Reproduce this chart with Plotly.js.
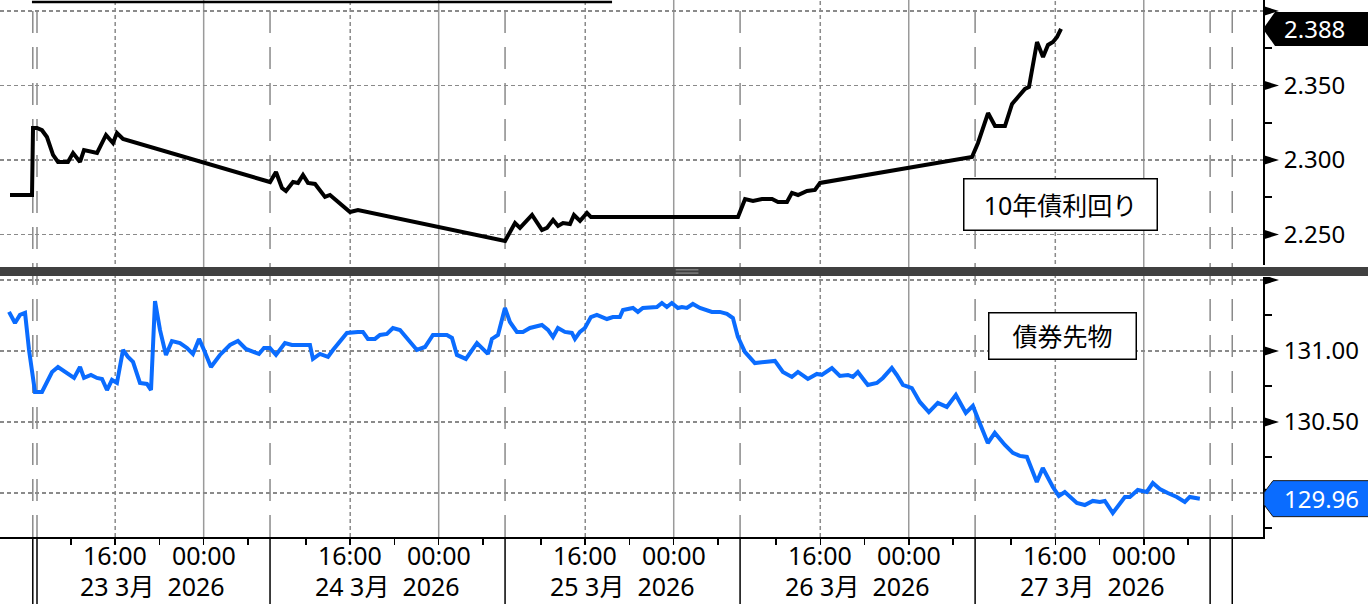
<!DOCTYPE html>
<html><head><meta charset="utf-8">
<script src="https://cdn.plot.ly/plotly-3.0.1.min.js"></script>
<style>html,body{margin:0;padding:0;background:#fff;}#chart{width:1368px;height:604px;}</style>
</head><body><div id="chart"></div>
<script>
// x = trading-session hours since the 23 Mar session open (sessions 08:45 -> 06:00, 21.25 h each)
const yieldX = [-2.26,-0.27,-0.18,0.18,0.63,1.08,1.63,2.08,2.98,3.44,4.07,4.43,5.61,5.88,6.42,7.05,7.41,7.96,
  21.25,21.79,22.33,22.69,23.33,23.78,24.23,24.68,25.32,26.22,26.67,28.48,29.20,
  42.50,43.40,43.85,44.94,45.84,46.29,46.84,47.29,47.74,48.37,48.73,49.28,49.91,50.27,
  63.56,64.20,64.92,65.73,66.64,67.18,67.99,68.44,68.99,69.80,70.52,70.98,
  84.72,85.26,86.17,86.80,87.70,88.34,88.88,89.51,89.87,90.60,91.14,91.59,92.04,92.41,92.77];
const yieldY = [2.2765,2.2765,2.3215,2.3215,2.3200,2.3154,2.3034,2.2987,2.2987,2.3047,2.2987,2.3067,2.3047,2.3087,2.3168,2.3114,2.3181,2.3141,
  2.2852,2.2919,2.2812,2.2792,2.2852,2.2846,2.2899,2.2846,2.2839,2.2752,2.2765,2.2651,2.2664,
  2.2456,2.2577,2.2544,2.2631,2.2530,2.2544,2.2597,2.2557,2.2577,2.2570,2.2631,2.2591,2.2644,2.2617,
  2.2617,2.2738,2.2725,2.2738,2.2738,2.2718,2.2718,2.2779,2.2765,2.2792,2.2799,2.2846,
  2.3020,2.3114,2.3315,2.3228,2.3228,2.3376,2.3423,2.3477,2.3490,2.3792,2.3691,2.3772,2.3792,2.3826,2.388];

const futX = [-2.35,-1.81,-1.36,-0.90,-0.54,0.00,0.63,1.08,1.54,2.08,2.89,3.53,4.07,4.43,5.06,5.60,6.06,6.51,6.96,7.41,
  7.96,8.41,8.86,9.49,10.12,10.49,10.85,11.30,11.84,12.38,13.11,13.74,14.28,14.83,15.28,15.91,16.72,17.63,18.35,19.07,
  20.25,20.70,21.24,21.79,22.60,23.23,24.86,25.13,25.76,26.49,26.94,28.20,29.20,29.65,30.10,30.74,31.19,31.82,32.36,33.00,
  34.53,35.26,35.98,37.24,37.70,38.15,38.96,39.96,40.95,41.31,41.86,42.49,42.94,43.57,44.12,44.75,45.83,46.38,46.83,47.28,
  47.91,48.54,48.82,49.27,49.72,50.26,50.80,51.71,52.25,52.88,53.16,54.06,54.51,54.96,56.23,56.68,57.13,57.58,58.13,58.49,
  58.94,59.48,60.12,60.75,61.20,61.92,62.56,63.10,63.55,64.18,65.09,66.90,67.62,68.43,68.98,69.88,70.69,71.14,72.05,72.77,
  73.50,73.95,74.40,75.30,76.12,76.66,77.47,77.92,78.47,79.28,80.00,80.82,81.63,82.44,83.26,84.16,84.80,85.34,86.15,86.78,
  87.69,88.41,89.04,89.68,90.58,91.12,92.03,92.57,93.11,94.20,94.92,95.64,96.28,96.73,97.45,98.54,98.99,99.71,100.52,101.07,
  101.70,102.42,103.24,103.96,104.41,105.32];
const futY = [131.275,131.197,131.254,131.268,131.007,130.711,130.711,130.775,130.852,130.887,130.845,130.810,130.887,130.810,130.831,130.810,130.803,130.725,130.796,130.775,
  131.007,130.958,130.923,130.775,130.768,130.725,131.352,131.148,130.972,131.070,131.056,131.021,130.979,131.085,131.007,130.887,130.972,131.042,131.070,131.014,
  130.979,131.021,131.021,130.972,131.056,131.042,131.042,130.944,130.979,130.958,131.007,131.127,131.134,131.134,131.085,131.085,131.113,131.120,131.162,131.148,
  131.007,131.028,131.113,131.113,131.092,130.972,130.944,131.056,130.979,131.085,131.113,131.303,131.204,131.134,131.134,131.162,131.183,131.148,131.099,131.162,
  131.134,131.127,131.085,131.134,131.162,131.239,131.254,131.225,131.239,131.239,131.289,131.303,131.275,131.303,131.310,131.338,131.310,131.338,131.303,131.310,
  131.303,131.331,131.303,131.289,131.275,131.275,131.261,131.232,131.099,130.993,130.915,130.930,130.852,130.817,130.852,130.803,130.838,130.831,130.880,130.824,
  130.831,130.817,130.852,130.761,130.775,130.810,130.880,130.831,130.761,130.739,130.641,130.570,130.634,130.606,130.690,130.563,130.613,130.507,130.352,130.423,
  130.338,130.282,130.261,130.254,130.077,130.176,130.042,129.979,130.007,129.930,129.915,129.944,129.937,129.944,129.859,129.972,129.972,130.021,130.007,130.070,
  130.028,130.000,129.972,129.937,129.972,129.960];

const dayLabels = ['23 3月  2026','24 3月  2026','25 3月  2026','26 3月  2026','27 3月  2026'];
const clockTicks = [12, 16, 20, 0, 4];          // 4-hourly ticks
const clockLabels = ['', '16:00', '', '00:00', ''];
const yieldTicks = [2.25, 2.30, 2.35, 2.40];
const yieldTickText = ['2.250', '2.300', '2.350', ''];
const yieldMinor = [2.275, 2.325, 2.375];
const futTicks = [130.0, 130.5, 131.0, 131.5];
const futTickText = ['', '130.50', '131.00', ''];
const futMinor = [129.75, 130.25, 130.75, 131.25];
const yieldName = '10年債利回り';
const futName = '債券先物';

const SESSION_OPEN = 8.75, SESSION_LEN = 21.25;
function sx(day, hour){ const h = hour < SESSION_OPEN ? hour + 24 : hour; return day * SESSION_LEN + (h - SESSION_OPEN); }

const tickvals = [];
const annotations = [];
for (let d = 0; d < dayLabels.length; d++) clockTicks.forEach((h, i) => {
  tickvals.push(sx(d, h));
  if (clockLabels[i]) annotations.push({xref:'x', yref:'paper', x:sx(d, h), y:-0.034, xanchor:'center', yanchor:'middle', text:clockLabels[i], showarrow:false, font:{size:25, color:'#000'}});
});

const shapes = [];
const GRID = '#8a8a8a';
// day boundaries (dashed in plot, solid black in the axis band)
const bounds = [];
for (let d = 0; d <= dayLabels.length; d++) bounds.push(d * SESSION_LEN);
const extraBound = dayLabels.length * SESSION_LEN + 2;
const allBounds = bounds.concat([extraBound]);
allBounds.forEach((b, i) => {
  const xs = i === 0 ? [b - 0.2, b + 0.18] : [b];
  xs.forEach(x => {
    shapes.push({type:'line', xref:'x', yref:'paper', x0:x, x1:x, y0:0, y1:1, layer:'below', line:{color:GRID, width:1.5, dash:'22px,14px'}});
    shapes.push({type:'line', xref:'x', yref:'paper', x0:x, x1:x, y0:-0.13, y1:0, layer:'above', line:{color:'#000', width:1.5}});
  });
});
for (let d = 0; d < dayLabels.length; d++) {
  const x16 = sx(d, 16), x00 = sx(d, 0);
  shapes.push({type:'line', xref:'x', yref:'paper', x0:x16, x1:x16, y0:0, y1:1, layer:'below', line:{color:GRID, width:1.5, dash:'4px,3px'}});
  shapes.push({type:'line', xref:'x', yref:'paper', x0:x00, x1:x00, y0:0, y1:1, layer:'below', line:{color:'#9a9a9a', width:1.5}});
}
// separator bar between panes
shapes.push({type:'rect', xref:'paper', yref:'paper', x0:0, x1:1.09, y0:0.4860, y1:0.5030, layer:'above', fillcolor:'#404040', line:{width:0}});
shapes.push({type:'line', xref:'paper', yref:'paper', x0:0.535, x1:0.553, y0:0.4975, y1:0.4975, layer:'above', line:{color:'#9a9a9a', width:1}});
shapes.push({type:'line', xref:'paper', yref:'paper', x0:0.535, x1:0.553, y0:0.4915, y1:0.4915, layer:'above', line:{color:'#9a9a9a', width:1}});
// top rule
shapes.push({type:'line', xref:'paper', yref:'paper', x0:0.0253, x1:0.4846, y0:0.9965, y1:0.9965, layer:'above', line:{color:'#000', width:2.5}});
// triangle major tick marks
yieldTicks.forEach(v => shapes.push({type:'path', xref:'paper', yref:'y', xsizemode:'pixel', ysizemode:'pixel', xanchor:1, yanchor:v, path:'M0,5 L16,0 L0,-5 Z', fillcolor:'#000', line:{width:0}, layer:'above'}));
futTicks.forEach(v => shapes.push({type:'path', xref:'paper', yref:'y2', xsizemode:'pixel', ysizemode:'pixel', xanchor:1, yanchor:v, path:'M0,5 L16,0 L0,-5 Z', fillcolor:'#000', line:{width:0}, layer:'above'}));
// last-value tags
const yLast = yieldY[yieldY.length - 1], fLast = futY[futY.length - 1];
shapes.push({type:'path', xref:'paper', yref:'y', xsizemode:'pixel', ysizemode:'pixel', xanchor:1, yanchor:yLast, path:'M0,0 L12,17 L110,17 L110,-17 L12,-17 Z', fillcolor:'#000', line:{width:0}, layer:'above'});
shapes.push({type:'path', xref:'paper', yref:'y2', xsizemode:'pixel', ysizemode:'pixel', xanchor:1, yanchor:fLast, path:'M10,18 L1,6 L1,-6 L10,-18 L110,-18 L110,18 Z', fillcolor:'#0a6cff', line:{color:'#1a1a1a', width:1}, layer:'above'});

dayLabels.forEach((t, d) => annotations.push({xref:'x', yref:'paper', x:d * SESSION_LEN + SESSION_LEN / 2, y:-0.0905, yanchor:'middle', xanchor:'center', text:t, showarrow:false, borderpad:0, font:{size:25, color:'#000'}}));
annotations.push({xref:'paper', yref:'y', x:1.015, xanchor:'left', y:yLast, yanchor:'middle', text:yLast.toFixed(3), showarrow:false, font:{size:24, color:'#fff'}});
annotations.push({xref:'paper', yref:'y2', x:1.015, xanchor:'left', y:fLast, yanchor:'middle', text:fLast.toFixed(2), showarrow:false, font:{size:24, color:'#fff'}});
annotations.push({xref:'paper', yref:'paper', x:0.8393, y:0.6201, xanchor:'center', yanchor:'middle', text:yieldName, showarrow:false, bgcolor:'#fff', bordercolor:'#000', borderwidth:1.5, borderpad:6, width:180, height:38, font:{size:25, color:'#000'}});
annotations.push({xref:'paper', yref:'paper', x:0.8413, y:0.3734, xanchor:'center', yanchor:'middle', text:futName, showarrow:false, bgcolor:'#fff', bordercolor:'#000', borderwidth:1.5, borderpad:6, width:134, height:33, font:{size:25, color:'#000'}});

const data = [
  {x:yieldX, y:yieldY, type:'scatter', mode:'lines', xaxis:'x', yaxis:'y', line:{color:'#000', width:4}, hoverinfo:'skip'},
  {x:futX, y:futY, type:'scatter', mode:'lines', xaxis:'x', yaxis:'y2', line:{color:'#0a6cff', width:4}, hoverinfo:'skip'}
];
const yCommon = {side:'right', anchor:'x', showline:true, linecolor:'#000', linewidth:2, showgrid:true, gridcolor:GRID, gridwidth:1.5, griddash:'4px,3px', zeroline:false,
  ticks:'outside', ticklen:7, tickwidth:2, tickcolor:'#000', ticklabelstandoff:7, tickfont:{size:24, color:'#000'}, fixedrange:true};
const layout = {
  width:1368, height:604, margin:{l:0, r:105, t:0, b:67}, paper_bgcolor:'#fff', plot_bgcolor:'#fff', showlegend:false,
  font:{family:'"Noto Sans", "Noto Sans CJK JP", sans-serif', color:'#000'},
  xaxis:{anchor:'y2', range:[-3.165, 111.03], showgrid:false, zeroline:false, showline:true, linecolor:'#000', linewidth:2,
    tickmode:'array', tickvals:tickvals, showticklabels:false, ticks:'outside', ticklen:6, tickwidth:1.5, tickcolor:'#000', fixedrange:true},
  yaxis:Object.assign({}, yCommon, {domain:[0.5065, 1], range:[2.2295, 2.4074], tickmode:'array', tickvals:yieldTicks, ticktext:yieldTickText,
    minor:{tickmode:'array', tickvals:yieldMinor, ticks:'outside', ticklen:7, tickwidth:2, tickcolor:'#000', showgrid:false}}),
  yaxis2:Object.assign({}, yCommon, {domain:[0, 0.4842], range:[129.690, 131.521], tickmode:'array', tickvals:futTicks, ticktext:futTickText,
    minor:{tickmode:'array', tickvals:futMinor, ticks:'outside', ticklen:7, tickwidth:2, tickcolor:'#000', showgrid:false}}),
  shapes:shapes, annotations:annotations
};
Plotly.newPlot('chart', data, layout, {staticPlot:true, displayModeBar:false});
</script></body></html>
